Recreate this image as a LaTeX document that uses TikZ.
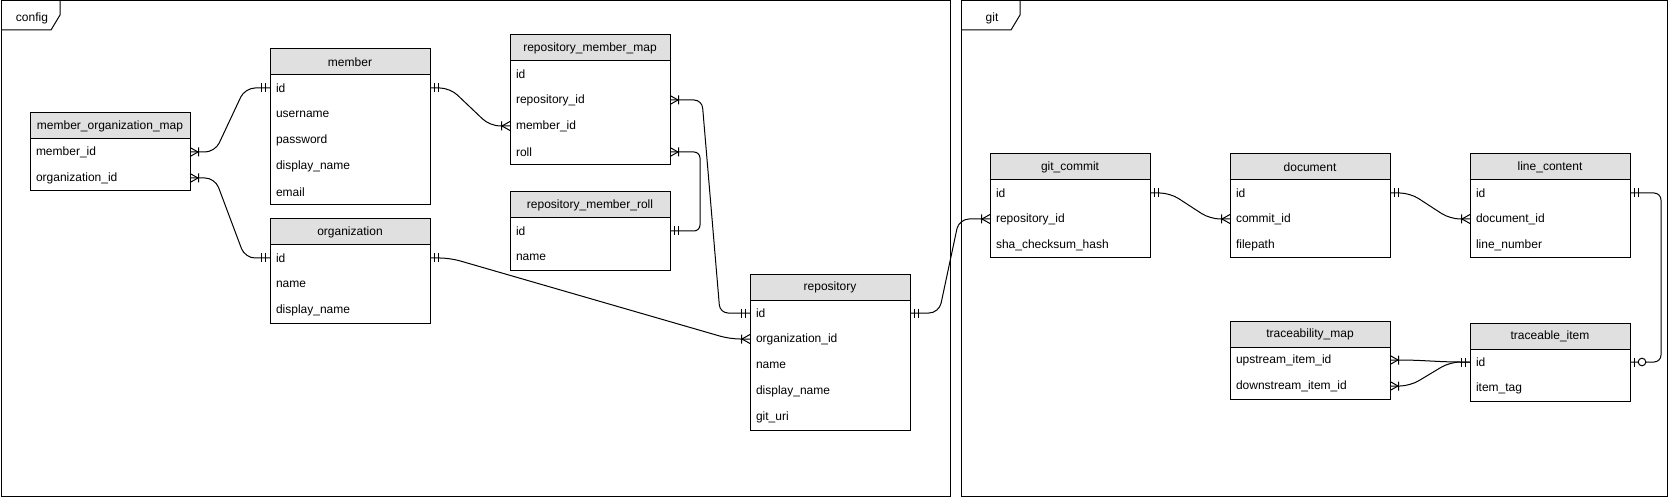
\documentclass[tikz,border=0pt]{standalone}
\usepackage{fontspec}
\setmainfont{Liberation Sans}
\usetikzlibrary{calc}
\definecolor{hdrgray}{RGB}{224,224,224}
\newcommand{\fs}{\fontsize{12}{14}\selectfont}
\tikzset{
 hdr/.style={draw, fill=hdrgray, minimum width=160pt, minimum height=26pt, inner sep=0pt, outer sep=0pt, anchor=north west, font=\fs},
 fieldrow/.style={minimum height=26pt, text width=148pt, inner xsep=6pt, inner ysep=0pt, outer sep=0pt, align=left, anchor=north west, font=\fs},
 conn/.style={rounded corners=10pt},
 framelabel/.style={font=\fs, inner sep=0pt},
}
\newcommand{\ertable}[5]{%
  \node[hdr] (#1) at (#2) {#3};
  \foreach \f [count=\i] in {#4} {
    \node[fieldrow] (#1-\i) at ($(#1.south west)+(0,{(\i-1)*26})$) {\f};
  }
  \draw (#1.north west) rectangle ($(#1.south east)+(0,{#5*26})$);
}
\newcommand{\mandone}[2]{\draw ($(#1)+(#2*4.5,-4.5)$) -- ++(0,9) ($(#1)+(#2*8.5,-4.5)$) -- ++(0,9);}
\newcommand{\onemany}[2]{\draw ($(#1)+(0,-4.5)$) -- ($(#1)+(#2*8,0)$) -- ($(#1)+(0,4.5)$) ($(#1)+(#2*8.5,-4.5)$) -- ++(0,9);}
\newcommand{\zeroone}[2]{\draw ($(#1)+(#2*4.5,-4.5)$) -- ++(0,9); \draw[fill=white] ($(#1)+(#2*12,0)$) circle[radius=3.8pt];}
\begin{document}
\begin{tikzpicture}[x=1pt, y=-1pt, line width=1pt]
\useasboundingbox (0,0) rectangle (1671,497);
% frames
\draw (1,1) rectangle (950,496);
\draw (1,30) -- (51,30) -- (60,15) -- (60,1);
\node[framelabel] (cfglabel) at (32,18) {config};
\draw (961,1) rectangle (1667,496);
\draw (961,30) -- (1011,30) -- (1020,15) -- (1020,1);
\node[framelabel] (gitlabel) at (992,18) {git};
% tables
\ertable{mom}{30,113}{member\_organization\_map}{member\_id,organization\_id}{2}
\ertable{member}{270,49}{member}{id,username,password,display\_name,email}{5}
\ertable{org}{270,219}{organization}{id,name,display\_name}{3}
\ertable{rmm}{510,35}{repository\_member\_map}{id,repository\_id,member\_id,roll}{4}
\ertable{rmr}{510,192}{repository\_member\_roll}{id,name}{2}
\ertable{repo}{750,274}{repository}{id,organization\_id,name,display\_name,git\_uri}{5}
\ertable{gc}{990,154}{git\_commit}{id,repository\_id,sha\_checksum\_hash}{3}
\ertable{doc}{1230,154}{document}{id,commit\_id,filepath}{3}
\ertable{lc}{1470,154}{line\_content}{id,document\_id,line\_number}{3}
\ertable{tm}{1230,321}{traceability\_map}{upstream\_item\_id,downstream\_item\_id}{2}
\ertable{ti}{1470,323}{traceable\_item}{id,item\_tag}{2}
% connectors
\draw[conn] (mom-1.east) -- ++(25,0) -- ($(member-1.west)+(-25,0)$) -- (member-1.west);
\draw[conn] (mom-2.east) -- ++(25,0) -- ($(org-1.west)+(-25,0)$) -- (org-1.west);
\draw[conn] (member-1.east) -- ++(20,0) -- ($(rmm-3.west)+(-20,0)$) -- (rmm-3.west);
\draw[conn] (org-1.east) -- ++(20,0) -- ($(repo-2.west)+(-20,0)$) -- (repo-2.west);
\draw[conn, rounded corners=8pt] (rmm-2.east) -- ++(32,0) -- ($(repo-1.west)+(-30,0)$) -- (repo-1.west);
\draw[conn, rounded corners=6pt] (rmm-4.east) -- ++(30,0) -- ($(rmr-1.east)+(30,0)$) -- (rmr-1.east);
\draw[conn] (repo-1.east) -- ++(29,0) -- ($(gc-2.west)+(-31,0)$) -- (gc-2.west);
\draw[conn] (gc-1.east) -- ++(20,0) -- ($(doc-2.west)+(-20,0)$) -- (doc-2.west);
\draw[conn] (doc-1.east) -- ++(20,0) -- ($(lc-2.west)+(-20,0)$) -- (lc-2.west);
\draw[conn, rounded corners=7pt] (lc-1.east) -- ++(31,0) -- ($(ti-1.east)+(31,0)$) -- (ti-1.east);
\draw[conn] (tm-1.east) -- ++(20,0) -- ($(ti-1.west)+(-20,0)$) -- (ti-1.west);
\draw[conn] (tm-2.east) -- ++(20,0) -- ($(ti-1.west)+(-20,0)$) -- (ti-1.west);
% markers
\onemany{mom-1.east}{1} \mandone{member-1.west}{-1}
\onemany{mom-2.east}{1} \mandone{org-1.west}{-1}
\mandone{member-1.east}{1} \onemany{rmm-3.west}{-1}
\mandone{org-1.east}{1} \onemany{repo-2.west}{-1}
\onemany{rmm-2.east}{1} \mandone{repo-1.west}{-1}
\onemany{rmm-4.east}{1} \mandone{rmr-1.east}{1}
\mandone{repo-1.east}{1} \onemany{gc-2.west}{-1}
\mandone{gc-1.east}{1} \onemany{doc-2.west}{-1}
\mandone{doc-1.east}{1} \onemany{lc-2.west}{-1}
\mandone{lc-1.east}{1} \zeroone{ti-1.east}{1}
\onemany{tm-1.east}{1} \mandone{ti-1.west}{-1}
\onemany{tm-2.east}{1}
\end{tikzpicture}
\end{document}
